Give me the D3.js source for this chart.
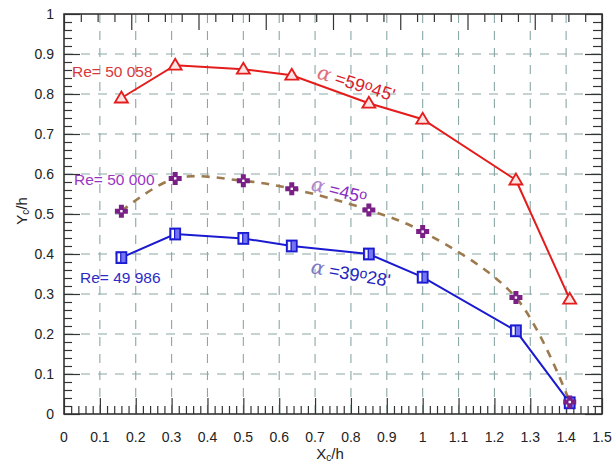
<!DOCTYPE html>
<html><head><meta charset="utf-8">
<script src="https://cdn.jsdelivr.net/npm/d3@7"></script>
<style>body{margin:0;background:#fff}svg{display:block;font-family:"Liberation Sans",Arial,sans-serif}</style>
</head><body>
<svg id="c" width="614" height="465"></svg>
<script>
const xPos = [0.16, 0.31, 0.5, 0.635, 0.85, 1.0, 1.26, 1.41];
const redY = [0.79, 0.872, 0.862, 0.847, 0.777, 0.737, 0.585, 0.287];
const purpleY = [0.507, 0.589, 0.583, 0.563, 0.51, 0.456, 0.291, 0.03];
const blueY = [0.391, 0.45, 0.439, 0.42, 0.40, 0.342, 0.208, 0.028];
const xTicks = [0,0.1,0.2,0.3,0.4,0.5,0.6,0.7,0.8,0.9,1,1.1,1.2,1.3,1.4,1.5];
const yTicks = [0,0.1,0.2,0.3,0.4,0.5,0.6,0.7,0.8,0.9,1];
const reLabels = ["Re= 50 058", "Re= 50 000", "Re= 49 986"];

const svg = d3.select("#c");
const x = d3.scaleLinear([0,1.5],[64,602]);
const y = d3.scaleLinear([0,1],[414,14]);
const xTop = d3.scaleLinear([0,8],[64,602]);

// grid
const grid = svg.append("g").attr("stroke","#8aa8a6").attr("stroke-width",1.1).attr("stroke-dasharray","9,8");
xTicks.filter(v=>v>0&&v<1.5).forEach(v=>grid.append("line").attr("x1",x(v)).attr("x2",x(v)).attr("y1",y(1)).attr("y2",y(0)));
yTicks.filter(v=>v>0&&v<1).forEach(v=>grid.append("line").attr("x1",x(0)).attr("x2",x(1.5)).attr("y1",y(v)).attr("y2",y(v)));

// axes with inward ticks
function ax(axisFn, scale, ticks, size, transform){
  const g = svg.append("g").attr("transform",transform)
    .call(axisFn(scale).tickValues(ticks).tickSize(size).tickFormat(""));
  g.select(".domain").remove();
  g.selectAll("line").attr("stroke","#333").attr("stroke-width",1.2);
}
const minorX = d3.range(0,75).map(i=>i*0.02).filter(v=>Math.abs(v*10-Math.round(v*10))>1e-6);
const minorY = d3.range(0,50).map(i=>i*0.02).filter(v=>Math.abs(v*10-Math.round(v*10))>1e-6);
ax(d3.axisTop, x, xTicks, 16, `translate(0,${y(0)})`);
ax(d3.axisTop, x, minorX, 8, `translate(0,${y(0)})`);
ax(d3.axisRight, y, yTicks, 16, `translate(${x(0)},0)`);
ax(d3.axisRight, y, minorY, 8, `translate(${x(0)},0)`);
ax(d3.axisLeft, y, yTicks, 17, `translate(${x(1.5)},0)`);
ax(d3.axisLeft, y, minorY, 9, `translate(${x(1.5)},0)`);
ax(d3.axisBottom, xTop, d3.range(0,9), 16, `translate(0,${y(1)})`);
ax(d3.axisBottom, xTop, d3.range(0,32).map(i=>i*0.25).filter(v=>v%1!==0), 8, `translate(0,${y(1)})`);

svg.append("rect").attr("x",x(0)).attr("y",y(1)).attr("width",x(1.5)-x(0)).attr("height",y(0)-y(1))
  .attr("fill","none").attr("stroke","#333").attr("stroke-width",1.6);

// tick labels
const fmt = v => v===0?"0":(v===1?"1":d3.format("")(+v.toFixed(1)));
svg.append("g").selectAll("text").data(xTicks).join("text")
  .attr("x",d=>x(d)).attr("y",442).attr("text-anchor","middle").attr("font-size",14).attr("fill","#222").text(fmt);
svg.append("g").selectAll("text").data(yTicks).join("text")
  .attr("x",54).attr("y",d=>y(d)+5).attr("text-anchor","end").attr("font-size",14).attr("fill","#222").text(fmt);

// axis titles
const xt = svg.append("text").attr("x",330).attr("y",459).attr("text-anchor","middle").attr("font-size",15).attr("fill","#222");
xt.append("tspan").text("X"); xt.append("tspan").attr("font-size",10).attr("dy",1.5).text("c"); xt.append("tspan").attr("dy",-1.5).text("/h");
const yt = svg.append("text").attr("transform","translate(27,211) rotate(-90)").attr("text-anchor","middle").attr("font-size",15).attr("fill","#222");
yt.append("tspan").text("Y"); yt.append("tspan").attr("font-size",10).attr("dy",1.5).text("c"); yt.append("tspan").attr("dy",-1.5).text("/h");

// lines
const pts = ys => xPos.map((v,i)=>[x(v),y(ys[i])]);
svg.append("path").attr("d",d3.line()(pts(redY))).attr("fill","none").attr("stroke","#e41c1c").attr("stroke-width",2);
svg.append("path").attr("d",d3.line()(pts(blueY))).attr("fill","none").attr("stroke","#1a1ad0").attr("stroke-width",2);
svg.append("path").attr("d",d3.line().curve(d3.curveCatmullRom.alpha(0.5))(pts(purpleY))).attr("fill","none")
  .attr("stroke","#9c7a4e").attr("stroke-width",2.6).attr("stroke-dasharray","8,7");

// markers
svg.append("g").selectAll("path").data(pts(redY)).join("path")
  .attr("transform",d=>`translate(${d[0]},${d[1]})`)
  .attr("d","M0,-6.5L6.5,4.5L-6.5,4.5Z").attr("fill","#fde4e4").attr("stroke","#e41c1c").attr("stroke-width",1.8);
const sq = svg.append("g").selectAll("g").data(pts(blueY)).join("g").attr("transform",d=>`translate(${d[0]},${d[1]})`);
sq.append("rect").attr("x",-5).attr("y",-5.5).attr("width",10).attr("height",11).attr("fill","#7474f4").attr("stroke","#1a1ad0").attr("stroke-width",1.8);
sq.append("rect").attr("x",-3.6).attr("y",-4).attr("width",2.6).attr("height",8).attr("fill","#fff");
sq.append("line").attr("x1",-0.6).attr("x2",-0.6).attr("y1",-5).attr("y2",5).attr("stroke","#1a1ad0").attr("stroke-width",1.2);
const pl = svg.append("g").selectAll("g").data(pts(purpleY)).join("g").attr("transform",d=>`translate(${d[0]},${d[1]})`);
pl.append("path").attr("d","M-2.5,-6.5H2.5V-2.5H6.5V2.5H2.5V6.5H-2.5V2.5H-6.5V-2.5H-2.5Z").attr("fill","#7a1f86");
pl.append("rect").attr("x",-1.2).attr("y",-1.2).attr("width",2.4).attr("height",2.4).attr("fill","#fff");

// Re labels
const reCol = ["#d8383c","#9a36c4","#2c2cc4"];
const reXY = [[72,77],[74,185],[80,283]];
reLabels.forEach((t,i)=>svg.append("text").attr("x",reXY[i][0]).attr("y",reXY[i][1]).attr("font-size",15.5).attr("fill",reCol[i]).text(t));

// alpha labels
function alpha(xp,yp,rot,col,acol,a,b){
  const t = svg.append("text").attr("transform",`translate(${xp},${yp}) rotate(${rot})`).attr("font-size",18).attr("fill",col);
  t.append("tspan").attr("fill",acol).attr("font-style","italic").attr("font-family","DejaVu Serif").attr("font-size",20).attr("font-weight",300).text("α");
  t.append("tspan").text(" =" + a);
  t.append("tspan").attr("font-size",14).attr("dy",-4).text("o");
  if(b) t.append("tspan").attr("dy",4).text(b);
}
alpha(316,78,17,"#d8202a","#e0707a","59","45'");
alpha(310,190,14,"#8a2ec0","#b084d0","45","");
alpha(310,273,10,"#2424c0","#7a7ac8","39","28'");
</script>
</body></html>
